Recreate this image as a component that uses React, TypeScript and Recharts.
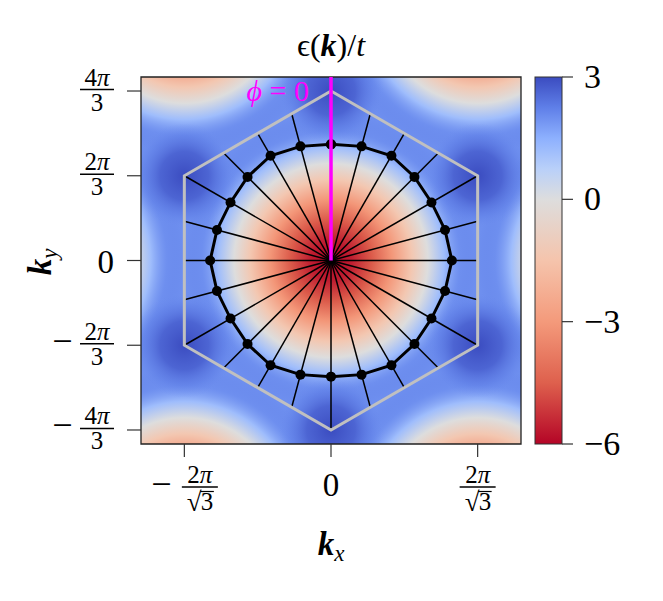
import { ComposedChart, XAxis, YAxis, Scatter, ReferenceArea, ReferenceLine } from "recharts"

// ---- axes ----
const SQ3 = Math.sqrt(3)
const xDomain = [-4.7, 4.7]
const yDomain = [-4.535, 4.535]
const xTickValues = [(-2 * Math.PI) / SQ3, 0, (2 * Math.PI) / SQ3]
const xTickLabels = ["−2π/√3", "0", "2π/√3"]
const yTickValues = [(4 * Math.PI) / 3, (2 * Math.PI) / 3, 0, (-2 * Math.PI) / 3, (-4 * Math.PI) / 3]
const yTickLabels = ["4π/3", "2π/3", "0", "−2π/3", "−4π/3"]

// ---- Brillouin zone corners (K points) ----
const bzKx = [0, 3.628, 3.628, 0, -3.628, -3.628]
const bzKy = [4.189, 2.094, -2.094, -4.189, -2.094, 2.094]

// ---- Γ points (band minimum) visible in the window ----
const gammaKx = [0, 7.255, -7.255, 3.628, -3.628, 3.628, -3.628]
const gammaKy = [0, 0, 0, 6.283, 6.283, -6.283, -6.283]

// energy, as a function of distance from a Γ point
const gammaDist = [0, 0.5, 1.0, 1.5, 2.0, 2.4, 2.8, 3.2, 3.628]
const gammaEnergy = [-6, -5.6, -4.6, -3.1, -1.35, 0, 1.2, 2.0, 2.3]
// ... and from a K point (band maximum)
const kDist = [0, 0.6, 1.0, 1.3]
const kEnergy = [3, 2.7, 2.3, 2.0]
const bandEdgeEnergy = 2.0

// ---- Fermi contour points ----
const fsAngleDeg = [0, 15, 30, 45, 60, 75, 90, 105, 120, 135, 150, 165, 180, 195, 210, 225, 240, 255, 270, 285, 300, 315, 330, 345]
const fsRadius = [2.87, 2.92, 2.99, 2.92, 2.87, 2.92, 2.99, 2.92, 2.87, 2.92, 2.99, 2.92, 2.87, 2.92, 2.99, 2.92, 2.87, 2.92, 2.99, 2.92, 2.87, 2.92, 2.99, 2.92]

// ---- colour scale ----
const cbarTicks = [3, 0, -3, -6]
const cbarLabels = ["3", "0", "−3", "−6"]
const cmapValues = [-6, -4.5, -3, -1.5, 0, 0.75, 1.5, 2.25, 3]
const cmapColors = ["#b40426", "#de604d", "#f49a7b", "#f5c4ac", "#dddddd", "#b9d0f9", "#8db0fe", "#5f7fe8", "#3b4cc0"]

const W = 663
const H = 601
const PLOT = { left: 141, top: 77, right: 521, bottom: 444 }
const Y_AXIS_W = 100
const X_AXIS_H = 60
const FONT = "'Liberation Serif', 'DejaVu Serif', serif"
const CBAR = { x: 535, w: 27 }

function lerpColor(a: string, b: string, t: number) {
  const pa = [1, 3, 5].map((i) => parseInt(a.slice(i, i + 2), 16))
  const pb = [1, 3, 5].map((i) => parseInt(b.slice(i, i + 2), 16))
  const c = pa.map((v, i) => Math.round(v + (pb[i] - v) * t))
  return `rgb(${c[0]},${c[1]},${c[2]})`
}

function cmap(v: number) {
  if (v <= cmapValues[0]) return cmapColors[0]
  for (let i = 1; i < cmapValues.length; i++) {
    if (v <= cmapValues[i]) {
      const t = (v - cmapValues[i - 1]) / (cmapValues[i] - cmapValues[i - 1])
      return lerpColor(cmapColors[i - 1], cmapColors[i], t)
    }
  }
  return cmapColors[cmapColors.length - 1]
}

// where a ray from the origin leaves the hexagon
function hexHit(dx: number, dy: number) {
  let best = Infinity
  for (let i = 0; i < bzKx.length; i++) {
    const j = (i + 1) % bzKx.length
    const ax = bzKx[i], ay = bzKy[i]
    const ex = bzKx[j] - ax, ey = bzKy[j] - ay
    const den = dx * ey - dy * ex
    if (Math.abs(den) < 1e-9) continue
    const t = (ax * ey - ay * ex) / den
    const s = (ax * dy - ay * dx) / den
    if (t > 0 && s >= -1e-6 && s <= 1 + 1e-6) best = Math.min(best, t)
  }
  return { x: dx * best, y: dy * best }
}

const hexData = [...bzKx, bzKx[0]].map((x, i) => ({ x, y: [...bzKy, bzKy[0]][i] }))
const fsData = fsAngleDeg.map((a, i) => {
  const r = (a * Math.PI) / 180
  return { x: fsRadius[i] * Math.sin(r), y: fsRadius[i] * Math.cos(r) }
})
const fsClosed = [...fsData, fsData[0]]
const spokes = fsAngleDeg.map((a) => {
  const r = (a * Math.PI) / 180
  return hexHit(Math.sin(r), Math.cos(r))
})
const phiLine = [{ x: 0, y: 0 }, { x: 0, y: yDomain[1] }]

const GAMMA_R = gammaDist[gammaDist.length - 1]
const K_R = kDist[kDist.length - 1]

function nearest(vals: number[], v: number) {
  let bi = 0
  vals.forEach((t, i) => {
    if (Math.abs(t - v) < Math.abs(vals[bi] - v)) bi = i
  })
  return bi
}

function Fraction({ cx, barY, num, den, width, rootDen }: any) {
  return (
    <g fontFamily={FONT} fill="#000">
      <text x={cx} y={barY - 4} fontSize={25} textAnchor="middle">
        {num.replace("π", "")}
        <tspan fontStyle="italic">π</tspan>
      </text>
      <line x1={cx - width / 2} x2={cx + width / 2} y1={barY} y2={barY} stroke="#000" strokeWidth={1.3} />
      {rootDen ? (
        <g>
          <text x={cx - 13} y={barY + 24} fontSize={27}>√</text>
          <text x={cx + 1} y={barY + 23} fontSize={25}>{den.replace("√", "")}</text>
          <line x1={cx + 0.5} x2={cx + 14} y1={barY + 4.5} y2={barY + 4.5} stroke="#000" strokeWidth={1.2} />
        </g>
      ) : (
        <text x={cx} y={barY + 21} fontSize={25} textAnchor="middle">{den}</text>
      )}
    </g>
  )
}

const XTick = (props: any) => {
  const { x, y, payload } = props
  const label = xTickLabels[nearest(xTickValues, payload.value)]
  if (!label.includes("/")) {
    return (
      <text x={x} y={y + 37} fontSize={33} fontFamily={FONT} textAnchor="middle" fill="#000">{label}</text>
    )
  }
  const neg = label.startsWith("−")
  const [num, den] = (neg ? label.slice(1) : label).split("/")
  const barY = y + 28
  const fw = 36
  if (!neg) return <Fraction cx={x} barY={barY} num={num} den={den} width={fw} rootDen />
  const start = x - (21 + 10 + fw) / 2
  return (
    <g>
      <text x={start + 10.5} y={barY + 9} fontSize={36} fontFamily={FONT} textAnchor="middle" fill="#000">−</text>
      <Fraction cx={start + 31 + fw / 2} barY={barY} num={num} den={den} width={fw} rootDen />
    </g>
  )
}

const YTick = (props: any) => {
  const { x, y, payload } = props
  const label = yTickLabels[nearest(yTickValues, payload.value)]
  const right = x - 11
  if (!label.includes("/")) {
    return (
      <text x={right} y={y + 12} fontSize={33} fontFamily={FONT} textAnchor="end" fill="#000">{label}</text>
    )
  }
  const neg = label.startsWith("−")
  const [num, den] = (neg ? label.slice(1) : label).split("/")
  const barY = y - 1.5
  const fw = 34
  const cx = right - fw / 2
  return (
    <g>
      {neg && (
        <text x={right - fw - 7 - 10.5} y={barY + 9} fontSize={36} fontFamily={FONT} textAnchor="middle" fill="#000">−</text>
      )}
      <Fraction cx={cx} barY={barY} num={num} den={den} width={fw} />
    </g>
  )
}

function Gradients() {
  // stops must run top (high energy) to bottom (low energy)
  const cbarStops = cmapValues.map((v, i) => ({ v, c: cmapColors[i] })).reverse()
  return (
    <svg width={0} height={0} style={{ position: "absolute" }}>
      <defs>
        <radialGradient id="gammaGrad" cx="0.5" cy="0.5" r="0.5">
          {gammaDist.map((d, i) => (
            <stop
              key={i}
              offset={d / GAMMA_R}
              stopColor={cmap(gammaEnergy[i])}
              stopOpacity={d <= 2.8 ? 1 : Math.max(0, 1 - (d - 2.8) / (GAMMA_R - 2.8))}
            />
          ))}
        </radialGradient>
        <radialGradient id="kGrad" cx="0.5" cy="0.5" r="0.5">
          {kDist.map((d, i) => (
            <stop key={i} offset={d / K_R} stopColor={cmap(kEnergy[i])} stopOpacity={[1, 0.9, 0.5, 0][i]} />
          ))}
        </radialGradient>
        <linearGradient id="cbarGrad" x1="0" y1="0" x2="0" y2="1">
          {cbarStops.map((s, i) => (
            <stop key={i} offset={(3 - s.v) / 9} stopColor={s.c} />
          ))}
        </linearGradient>
      </defs>
    </svg>
  )
}

function Overlay() {
  const cbY = (v: number) => PLOT.top + ((3 - v) / 9) * (PLOT.bottom - PLOT.top)
  return (
    <svg width={W} height={H} style={{ position: "absolute", left: 0, top: 0, pointerEvents: "none" }} fontFamily={FONT}>
      <text x={331} y={56} fontSize={32} textAnchor="middle" fill="#000">
        ϵ(<tspan fontWeight="bold" fontStyle="italic">k</tspan>)/<tspan fontStyle="italic">t</tspan>
      </text>
      <text x={309} y={101} fontSize={30} textAnchor="end" fill="#ff00ff">
        <tspan fontStyle="italic">ϕ</tspan> = 0
      </text>
      <text x={331} y={555} fontSize={33} textAnchor="middle" fill="#000">
        <tspan fontWeight="bold" fontStyle="italic">k</tspan>
        <tspan fontStyle="italic" fontSize={23} dy={6}>x</tspan>
      </text>
      <g transform="translate(51,262) rotate(-90)">
        <text x={0} y={0} fontSize={33} textAnchor="middle" fill="#000">
          <tspan fontWeight="bold" fontStyle="italic">k</tspan>
          <tspan fontStyle="italic" fontSize={23} dy={6}>y</tspan>
        </text>
      </g>
      <rect x={CBAR.x} y={PLOT.top} width={CBAR.w} height={PLOT.bottom - PLOT.top} fill="url(#cbarGrad)" stroke="#333" strokeWidth={1} />
      {cbarTicks.map((v, i) => (
        <g key={v}>
          <line x1={CBAR.x + CBAR.w} x2={CBAR.x + CBAR.w + 11} y1={cbY(v)} y2={cbY(v)} stroke="#333" strokeWidth={1.2} />
          <text x={584} y={cbY(v) + 11} fontSize={34} fill="#000">{cbarLabels[i]}</text>
        </g>
      ))}
    </svg>
  )
}

export default function App() {
  return (
    <div style={{ position: "absolute", left: 0, top: 0, width: W, height: H, background: "#fff" }}>
      <Gradients />
      <ComposedChart
        width={W}
        height={H}
        margin={{ top: PLOT.top, left: PLOT.left - Y_AXIS_W, right: W - PLOT.right, bottom: H - PLOT.bottom - X_AXIS_H }}
      >
        <XAxis
          type="number"
          dataKey="x"
          domain={xDomain}
          ticks={xTickValues}
          interval={0}
          allowDataOverflow
          axisLine={false}
          tickSize={13}
          tickLine={{ stroke: "#333", strokeWidth: 1.2 }}
          tick={<XTick />}
          height={X_AXIS_H}
        />
        <YAxis
          type="number"
          dataKey="y"
          domain={yDomain}
          ticks={yTickValues}
          interval={0}
          allowDataOverflow
          axisLine={false}
          tickSize={14}
          tickLine={{ stroke: "#333", strokeWidth: 1.2 }}
          tick={<YTick />}
          width={Y_AXIS_W}
        />
        <ReferenceArea
          x1={xDomain[0]}
          x2={xDomain[1]}
          y1={yDomain[0]}
          y2={yDomain[1]}
          fill={cmap(bandEdgeEnergy)}
          fillOpacity={1}
          ifOverflow="hidden"
        />
        {gammaKx.map((gx, i) => (
          <ReferenceArea
            key={`g${i}`}
            x1={gx - GAMMA_R}
            x2={gx + GAMMA_R}
            y1={gammaKy[i] - GAMMA_R}
            y2={gammaKy[i] + GAMMA_R}
            fill="url(#gammaGrad)"
            fillOpacity={1}
            ifOverflow="hidden"
          />
        ))}
        {bzKx.map((kx, i) => (
          <ReferenceArea
            key={`k${i}`}
            x1={kx - K_R}
            x2={kx + K_R}
            y1={bzKy[i] - K_R}
            y2={bzKy[i] + K_R}
            fill="url(#kGrad)"
            fillOpacity={1}
            ifOverflow="hidden"
          />
        ))}
        {spokes.map((p, i) => (
          <ReferenceLine
            key={`s${i}`}
            segment={[{ x: 0, y: 0 }, { x: p.x, y: p.y }]}
            stroke="#000"
            strokeWidth={1.5}
          />
        ))}
        <Scatter
          data={hexData}
          line={{ stroke: "#c0c0c0", strokeWidth: 3 }}
          lineType="joint"
          shape={() => <g />}
          isAnimationActive={false}
        />
        <Scatter
          data={fsClosed}
          line={{ stroke: "#000", strokeWidth: 3 }}
          lineType="joint"
          shape={(p: any) => <circle cx={p.cx} cy={p.cy} r={5} fill="#000" />}
          isAnimationActive={false}
        />
        <Scatter
          data={phiLine}
          line={{ stroke: "#ff00ff", strokeWidth: 3.5 }}
          lineType="joint"
          shape={() => <g />}
          isAnimationActive={false}
        />
        <ReferenceArea
          x1={xDomain[0]}
          x2={xDomain[1]}
          y1={yDomain[0]}
          y2={yDomain[1]}
          fill="none"
          stroke="#222"
          strokeWidth={1.3}
          ifOverflow="visible"
        />
      </ComposedChart>
      <Overlay />
    </div>
  )
}
